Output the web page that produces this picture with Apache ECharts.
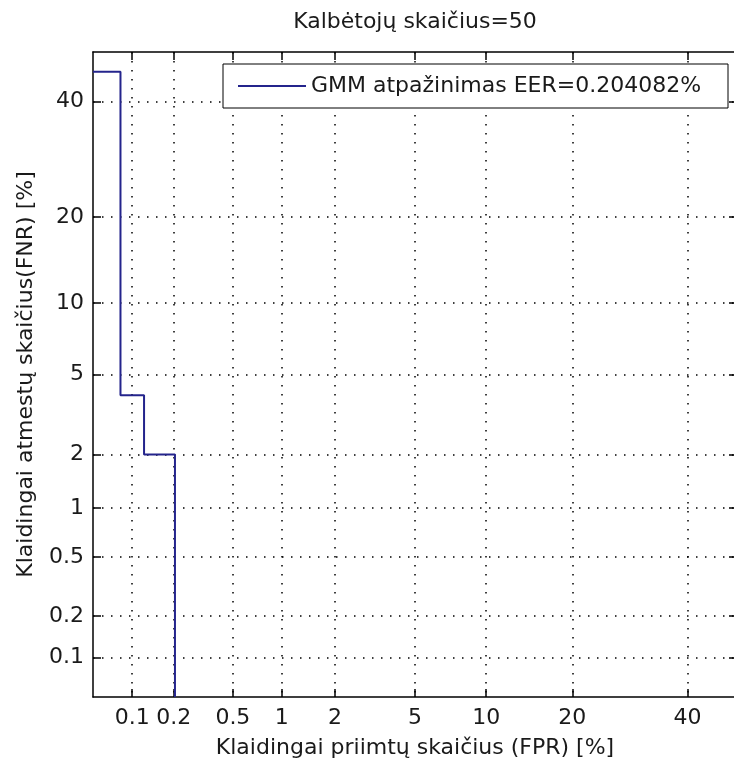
<!DOCTYPE html>
<html>
<head>
<meta charset="utf-8">
<title>DET</title>
<script src="https://cdn.jsdelivr.net/npm/echarts@6/dist/echarts.min.js"></script>
<style>
html, body { margin: 0; padding: 0; background: #fff; }
#main { width: 734px; height: 769px; }
</style>
</head>
<body>
<div id="main"></div>
<script>
// DET curve data, values in percent
var fprPct = [0.05, 0.0816, 0.0816, 0.1224, 0.1224, 0.2041, 0.2041];
var fnrPct = [46, 46, 4, 4, 2, 2, 0.05];
var tickPct = [0.1, 0.2, 0.5, 1, 2, 5, 10, 20, 40];
var axisMinPct = 0.05, axisMaxPct = 50;
var seriesName = 'GMM atpažinimas EER=0.204082%';

// inverse normal cdf (Acklam), DET plots use normal deviate scale
function probit(p) {
    var a = [-3.969683028665376e+01, 2.209460984245205e+02, -2.759285104469687e+02, 1.383577518672690e+02, -3.066479806614716e+01, 2.506628277459239e+00];
    var b = [-5.447609879822406e+01, 1.615858368580409e+02, -1.556989798598866e+02, 6.680131188771972e+01, -1.328068155288572e+01];
    var c = [-7.784894002430293e-03, -3.223964580411365e-01, -2.400758277161838e+00, -2.549732539343734e+00, 4.374664141464968e+00, 2.938163982698783e+00];
    var d = [7.784695709041462e-03, 3.224671290700398e-01, 2.445134137142996e+00, 3.754408661907416e+00];
    var pl = 0.02425, q, r;
    if (p < pl) {
        q = Math.sqrt(-2 * Math.log(p));
        return (((((c[0]*q+c[1])*q+c[2])*q+c[3])*q+c[4])*q+c[5]) / ((((d[0]*q+d[1])*q+d[2])*q+d[3])*q+1);
    }
    if (p <= 1 - pl) {
        q = p - 0.5; r = q * q;
        return (((((a[0]*r+a[1])*r+a[2])*r+a[3])*r+a[4])*r+a[5])*q / (((((b[0]*r+b[1])*r+b[2])*r+b[3])*r+b[4])*r+1);
    }
    q = Math.sqrt(-2 * Math.log(1 - p));
    return -(((((c[0]*q+c[1])*q+c[2])*q+c[3])*q+c[4])*q+c[5]) / ((((d[0]*q+d[1])*q+d[2])*q+d[3])*q+1);
}
function pct2dev(v) { return probit(v / 100); }

var tickPos = tickPct.map(pct2dev);
var axMin = pct2dev(axisMinPct), axMax = pct2dev(axisMaxPct);

function tickLabel(v) {
    for (var i = 0; i < tickPos.length; i++) {
        if (Math.abs(tickPos[i] - v) < 1e-9) return String(tickPct[i]);
    }
    return '';
}

var FONT = 'DejaVu Sans';
var TXT = '#1a1a1a';
var FS = 22;

function mkAxis(pos, withLabels) {
    return {
        type: 'value',
        position: pos,
        min: axMin,
        max: axMax,
        axisLine: { show: true, onZero: false, lineStyle: { color: '#000', width: 1.5 } },
        axisTick: { show: true, inside: true, length: 8, customValues: tickPos, lineStyle: { color: '#000', width: 1.5 } },
        axisLabel: { show: withLabels, customValues: tickPos, formatter: tickLabel, color: TXT, fontFamily: FONT, fontSize: FS, margin: 10 },
        splitLine: { show: withLabels, lineStyle: { color: '#000', width: 1.5, type: [1.5, 7.5] } },
        nameTextStyle: { color: TXT, fontFamily: FONT, fontSize: FS }
    };
}

var xBottom = mkAxis('bottom', true);
xBottom.name = 'Klaidingai priimtų skaičius (FPR) [%]';
xBottom.nameLocation = 'middle';
xBottom.nameGap = 40;
var xTop = mkAxis('top', false);
xTop.name = 'Kalbėtojų skaičius=50';
xTop.nameLocation = 'middle';
xTop.nameGap = 19;
var yLeft = mkAxis('left', true);
yLeft.name = 'Klaidingai atmestų skaičius(FNR) [%]';
yLeft.nameLocation = 'middle';
yLeft.nameGap = 56;
yLeft.axisLabel.margin = 9;
var yRight = mkAxis('right', false);

var myChart = echarts.init(document.getElementById('main'));
myChart.setOption({
    backgroundColor: '#fff',
    animation: false,
    grid: { left: 93, top: 52, width: 644, height: 645, outerBoundsMode: 'none', containLabel: false },
    legend: {
        left: 223,
        top: 64,
        backgroundColor: '#fff',
        borderColor: '#000',
        borderWidth: 1,
        borderRadius: 0,
        padding: [10, 13, 10, 15],
        icon: 'rect',
        itemWidth: 68,
        itemHeight: 2,
        textStyle: { color: TXT, fontFamily: FONT, fontSize: FS, lineHeight: 24, width: 404 },
        data: [seriesName]
    },
    xAxis: [xBottom, xTop],
    yAxis: [yLeft, yRight],
    series: [{
        name: seriesName,
        type: 'line',
        showSymbol: false,
        symbol: 'none',
        color: '#24248c',
        lineStyle: { color: '#24248c', width: 2 },
        data: fprPct.map(function (x, i) { return [pct2dev(x), pct2dev(fnrPct[i])]; })
    }]
});
</script>
</body>
</html>
